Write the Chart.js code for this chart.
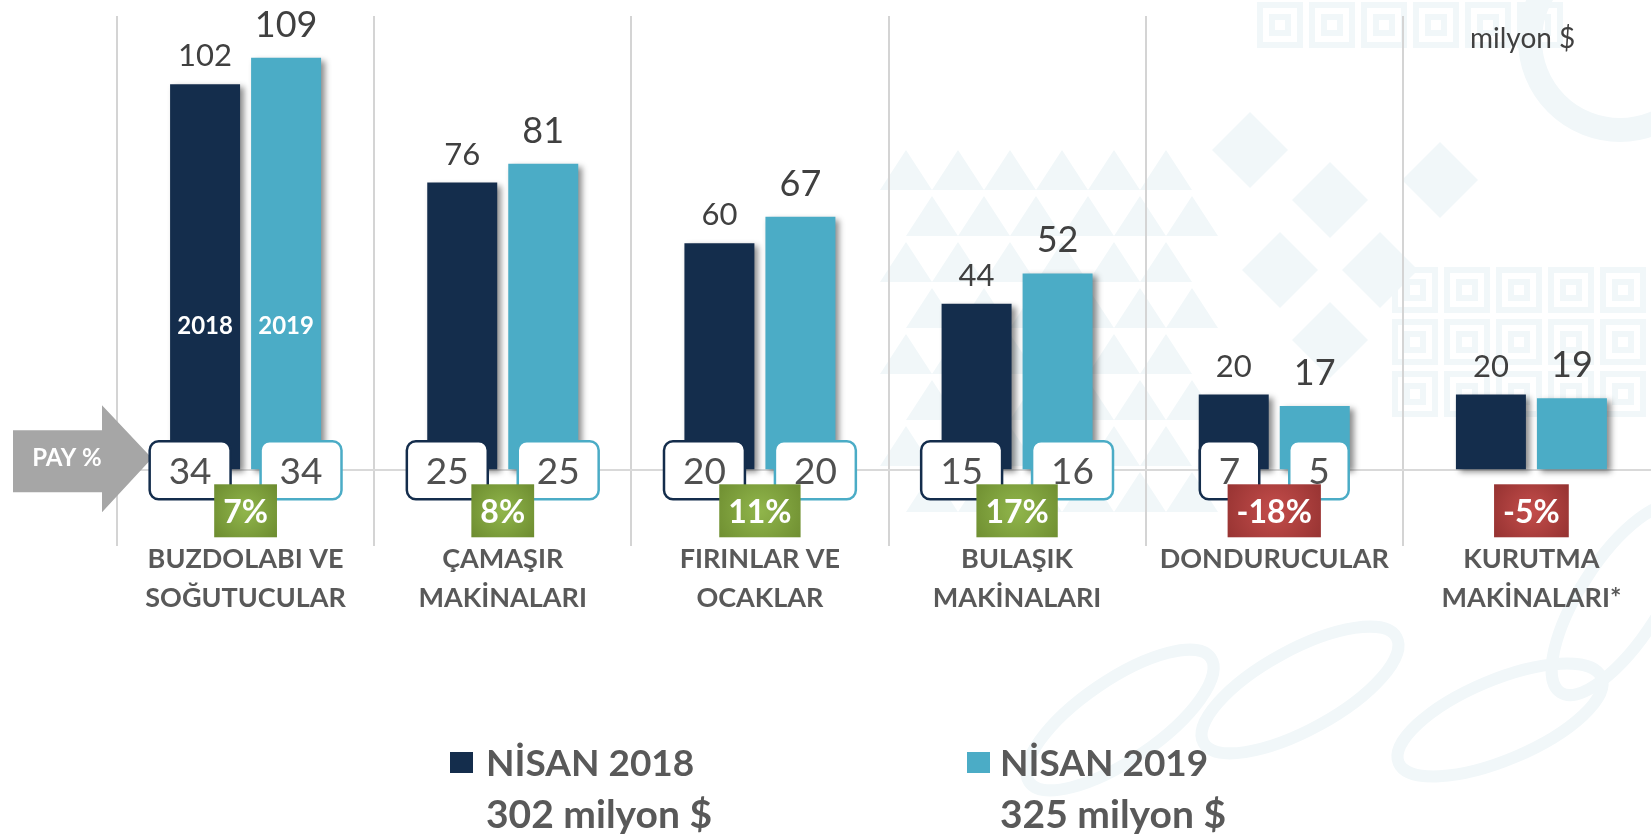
<!DOCTYPE html>
<html><head><meta charset="utf-8">
<script src="https://cdn.jsdelivr.net/npm/chart.js@4/dist/chart.umd.min.js"></script>
<style>
html,body{margin:0;padding:0;background:#fff;overflow:hidden;width:1651px;height:840px;}
#wrap{position:absolute;left:0;top:0;width:1670px;height:840px;}
.t{position:absolute;font-family:Lato,sans-serif;white-space:nowrap;margin:0;}
.leg{font-weight:700;color:#595959;}
.sq{position:absolute;width:23px;height:21px;}
</style></head><body>
<div id="wrap"><canvas id="c" width="1670" height="840"></canvas></div>
<div class="t" style="left:1470px;top:22px;font-size:28px;line-height:30px;color:#404040;">milyon $</div>
<div class="sq" style="left:450px;top:752px;background:#142d4c;"></div>
<div class="t leg" style="left:486px;top:743px;font-size:37px;line-height:37px;">NİSAN 2018</div>
<div class="t leg" style="left:486px;top:794px;font-size:39px;line-height:39px;">302 milyon $</div>
<div class="sq" style="left:967px;top:752px;background:#4bacc6;"></div>
<div class="t leg" style="left:1000px;top:743px;font-size:37px;line-height:37px;">NİSAN 2019</div>
<div class="t leg" style="left:1000px;top:794px;font-size:39px;line-height:39px;">325 milyon $</div>
<script>
const categories = [['BUZDOLABI VE','SOĞUTUCULAR'],['ÇAMAŞIR','MAKİNALARI'],['FIRINLAR VE','OCAKLAR'],['BULAŞIK','MAKİNALARI'],'DONDURUCULAR',['KURUTMA','MAKİNALARI*']];
const seriesNames = ['NİSAN 2018','NİSAN 2019'];
const yearTags = ['2018','2019'];
const values2018 = [102,76,60,44,20,20];
const values2019 = [109,81,67,52,17,19];
const share2018 = [34,25,20,15,7,null];
const share2019 = [34,25,20,16,5,null];
const growthPct = [7,8,11,17,-18,-5];

const DARK = '#142d4c', LIGHT = '#4bacc6';

// faint decorative background motifs (purely ornamental)
const bgPlugin = {
  id:'bgMotif',
  beforeDraw(chart){
    const ctx=chart.ctx; ctx.save();
    ctx.fillStyle='#f1f7f9'; ctx.strokeStyle='#f1f7f9';
    for(let r=0;r<8;r++){
      const y0=150+r*46;
      for(let k=0;k<6;k++){
        const x0=880+k*52+(r%2)*26;
        ctx.beginPath(); ctx.moveTo(x0,y0+40); ctx.lineTo(x0+26,y0); ctx.lineTo(x0+52,y0+40); ctx.closePath(); ctx.fill();
      }
    }
    [[1330,200],[1280,270],[1380,270],[1330,340],[1440,180],[1250,150]].forEach(([x,y])=>{
      ctx.beginPath(); ctx.moveTo(x,y-38); ctx.lineTo(x+38,y); ctx.lineTo(x,y+38); ctx.lineTo(x-38,y); ctx.closePath(); ctx.fill();
    });
    ctx.lineWidth=6;
    for(let r=0;r<3;r++) for(let k=0;k<5;k++){
      const x=1395+k*52, y=270+r*52;
      ctx.strokeRect(x,y,40,40); ctx.strokeRect(x+12,y+12,16,16);
    }
    for(let k=0;k<6;k++){ const x=1260+k*52; ctx.strokeRect(x,5,40,40); ctx.strokeRect(x+12,17,16,16); }
    ctx.lineWidth=24; ctx.beginPath(); ctx.arc(1620,40,90,0,Math.PI*2); ctx.stroke();
    ctx.lineWidth=12;
    [[1120,720,-0.6],[1300,690,-0.5],[1500,720,-0.4],[1620,600,-1.0]].forEach(([x,y,a])=>{
      ctx.beginPath(); ctx.ellipse(x,y,110,40,a,0,Math.PI*2); ctx.stroke();
    });
    ctx.restore();
  }
};

const shadowPlugin = {
  id:'barShadow',
  beforeDatasetDraw(chart){ const c=chart.ctx; c.save(); c.shadowColor='rgba(0,0,0,0.45)'; c.shadowBlur=6; c.shadowOffsetX=4; c.shadowOffsetY=3; },
  afterDatasetDraw(chart){ chart.ctx.restore(); }
};

function rr(ctx,x,y,w,h,r){
  ctx.beginPath();
  ctx.moveTo(x+r,y); ctx.lineTo(x+w-r,y); ctx.arcTo(x+w,y,x+w,y+r,r);
  ctx.lineTo(x+w,y+h-r); ctx.arcTo(x+w,y+h,x+w-r,y+h,r);
  ctx.lineTo(x+r,y+h); ctx.arcTo(x,y+h,x,y+h-r,r);
  ctx.lineTo(x,y+r); ctx.arcTo(x,y,x+r,y,r); ctx.closePath();
}

const overlayPlugin = {
  id:'overlay',
  afterDatasetsDraw(chart){
    const ctx=chart.ctx, xs=chart.scales.x, ys=chart.scales.y;
    const zeroY = ys.getPixelForValue(0);
    ctx.save();
    ctx.textAlign='center'; ctx.textBaseline='alphabetic'; ctx.fillStyle='#404040';
    chart.data.datasets.forEach((ds,di)=>{
      const meta=chart.getDatasetMeta(di);
      ctx.font = (di===0?'31px':'36px')+' Lato';
      meta.data.forEach((bar,i)=>{ ctx.fillText(String(ds.data[i]), bar.x, bar.y-(di===0?18:21)); });
    });
    ctx.font='bold 24px Lato'; ctx.fillStyle='#fff'; ctx.textBaseline='middle';
    chart.data.datasets.forEach((ds,di)=>{
      const bar=chart.getDatasetMeta(di).data[0];
      ctx.fillText(yearTags[di], bar.x, ys.getPixelForValue(38));
    });
    ctx.fillStyle='#a6a6a6';
    ctx.beginPath();
    ctx.moveTo(13,zeroY-40); ctx.lineTo(102,zeroY-40); ctx.lineTo(102,zeroY-65);
    ctx.lineTo(152,zeroY-12); ctx.lineTo(102,zeroY+42); ctx.lineTo(102,zeroY+22);
    ctx.lineTo(13,zeroY+22); ctx.closePath(); ctx.fill();
    ctx.fillStyle='#fff'; ctx.font='bold 24px Lato'; ctx.textBaseline='middle';
    ctx.fillText('PAY %', 67, zeroY-12);
    const shares=[share2018,share2019], cols=[DARK,LIGHT];
    ctx.font='37px Lato';
    categories.forEach((c,i)=>{
      const cx=xs.getPixelForValue(i);
      for(let d=0;d<2;d++){
        const v=shares[d][i]; if(v==null) continue;
        const tw=ctx.measureText(String(v)).width, w=tw+38, h=58;
        const bx = d===0 ? cx-15-w : cx+15, by=zeroY-29;
        rr(ctx,bx,by,w,h,9); ctx.fillStyle='#fff'; ctx.fill();
        ctx.lineWidth=2.5; ctx.strokeStyle=cols[d]; ctx.stroke();
        ctx.fillStyle='#505050'; ctx.textBaseline='middle';
        ctx.fillText(String(v), bx+w/2, zeroY+2);
      }
    });
    ctx.font='bold 32px Lato';
    categories.forEach((c,i)=>{
      const cx=xs.getPixelForValue(i), g=growthPct[i], txt=g+'%';
      const tw=ctx.measureText(txt).width, w=tw+18, h=53, bx=cx-w/2, by=zeroY+14;
      const grd=ctx.createRadialGradient(cx,by+h/2,2,cx,by+h/2,w*0.75);
      if(g>=0){ grd.addColorStop(0,'#8fb44a'); grd.addColorStop(1,'#67852b'); }
      else { grd.addColorStop(0,'#c24c4a'); grd.addColorStop(1,'#8a2c2b'); }
      ctx.fillStyle=grd; ctx.fillRect(bx,by,w,h);
      ctx.fillStyle='#fff'; ctx.textBaseline='middle';
      ctx.fillText(txt, cx, by+h/2+2);
    });
    ctx.restore();
  }
};

new Chart(document.getElementById('c'), {
  type:'bar',
  data:{ labels:categories, datasets:[
    {label:seriesNames[0], data:values2018, backgroundColor:DARK, categoryPercentage:0.63, barPercentage:0.864},
    {label:seriesNames[1], data:values2019, backgroundColor:LIGHT, categoryPercentage:0.63, barPercentage:0.864}
  ]},
  options:{
    responsive:false, animation:false, devicePixelRatio:1,
    layout:{padding:{left:117,right:10,top:16,bottom:0}},
    plugins:{legend:{display:false}, tooltip:{enabled:false}},
    scales:{
      x:{ offset:true,
        grid:{display:true, offset:true, color:'#d4d4d4', lineWidth:2, drawTicks:false},
        border:{display:false},
        ticks:{font:{family:'Lato',weight:'bold',size:27,lineHeight:'39px'}, color:'#595959', padding:-6, maxRotation:0, autoSkip:false},
        afterFit(s){ s.height=294; }
      },
      y:{ min:-20, max:120,
        ticks:{display:false, stepSize:20},
        grid:{color:(c)=>c.tick && c.tick.value===0 ? '#d9d9d9' : 'rgba(0,0,0,0)', lineWidth:2, drawTicks:false},
        border:{display:false},
        afterFit(s){ s.width=0; }
      }
    }
  },
  plugins:[bgPlugin, shadowPlugin, overlayPlugin]
});
</script>
</body></html>
